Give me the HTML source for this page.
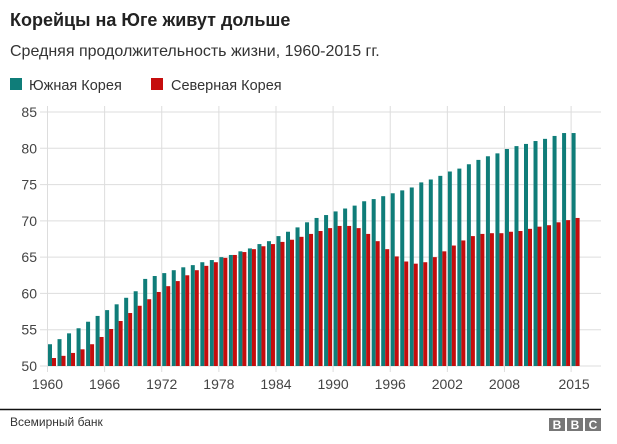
<!DOCTYPE html>
<html><head><meta charset="utf-8">
<style>
body{margin:0;background:#fff;font-family:"Liberation Sans",Arial,sans-serif;}
svg{display:block}
</style></head>
<body>
<svg id="chart" width="617" height="444">
<text x="10" y="26" font-size="18" font-weight="bold" fill="#222">Корейцы на Юге живут дольше</text>
<text x="10" y="56" font-size="16" fill="#333">Средняя продолжительность жизни, 1960-2015 гг.</text>
<g>
<rect x="10" y="78" width="12" height="12" fill="#0f7d79"/>
<text x="29" y="90" font-size="14.5" fill="#333">Южная Корея</text>
<rect x="151" y="78" width="12" height="12" fill="#c50d0d"/>
<text x="171" y="90" font-size="14.5" fill="#333">Северная Корея</text>
</g>
<g id="grid"></g>
<g id="bars"></g>
<g id="xlabels"></g>
<line x1="0" y1="409.5" x2="601" y2="409.5" stroke="#111" stroke-width="1.5"/>
<text x="10" y="426" font-size="12" fill="#333">Всемирный банк</text>
<g>
<rect x="549" y="418" width="16" height="13" fill="#777"/><text x="557" y="429" font-size="12" font-weight="bold" fill="#fff" text-anchor="middle">B</text>
<rect x="567" y="418" width="16" height="13" fill="#777"/><text x="575" y="429" font-size="12" font-weight="bold" fill="#fff" text-anchor="middle">B</text>
<rect x="585" y="418" width="16" height="13" fill="#777"/><text x="593" y="429" font-size="12" font-weight="bold" fill="#fff" text-anchor="middle">C</text>
</g>
</svg>
<script>
const years = [];
for (let y = 1960; y <= 2015; y++) years.push(y);
const southKorea = [53.0,53.7,54.5,55.2,56.1,56.9,57.7,58.5,59.4,60.3,62.0,62.4,62.8,63.2,63.6,63.9,64.3,64.6,65.0,65.3,65.8,66.2,66.8,67.2,67.9,68.5,69.1,69.8,70.4,70.8,71.3,71.7,72.1,72.7,73.0,73.4,73.8,74.2,74.6,75.3,75.7,76.2,76.8,77.2,77.8,78.4,78.9,79.3,79.9,80.3,80.6,81.0,81.3,81.7,82.1,82.1];
const northKorea = [51.1,51.4,51.8,52.3,53.0,54.0,55.1,56.2,57.3,58.3,59.2,60.2,61.0,61.7,62.5,63.2,63.8,64.3,64.9,65.3,65.7,66.1,66.5,66.8,67.1,67.4,67.8,68.2,68.6,69.0,69.3,69.3,69.0,68.2,67.2,66.1,65.1,64.4,64.1,64.3,65.0,65.8,66.6,67.3,67.9,68.2,68.3,68.3,68.5,68.6,68.9,69.2,69.4,69.8,70.1,70.4];
const yTicks = [50,55,60,65,70,75,80,85];
const xTicks = [1960,1966,1972,1978,1984,1990,1996,2002,2008,2015];

const NS = "http://www.w3.org/2000/svg";
const yScale = v => 366 - (v - 50) * (254 / 35);
const xScale = yr => 47.5 + (yr - 1960) * 9.52;
function mk(tag, attrs, parent){const e=document.createElementNS(NS,tag);for(const k in attrs)e.setAttribute(k,attrs[k]);parent.appendChild(e);return e;}
const grid=document.getElementById('grid'), bars=document.getElementById('bars'), xl=document.getElementById('xlabels');

yTicks.forEach(t=>{
  const y=yScale(t);
  const l=mk('line',{x1:40,x2:601,y1:y,y2:y,stroke:'#ddd','stroke-width':1},grid);
  
  
  const tx=mk('text',{x:37,y:y+5,'font-size':14,fill:'#444','text-anchor':'end'},grid);
  tx.textContent=t;
  
  
});
xTicks.forEach(t=>{
  const x=xScale(t);
  const l=mk('line',{x1:x,x2:x,y1:106,y2:372,stroke:'#ddd','stroke-width':1},grid);
  
  
  const tx=mk('text',{x:x+(t===2015?3:0),y:389,'font-size':14,fill:'#444','text-anchor':'middle'},xl);
  tx.textContent=t;
  
  
});
years.forEach((yr,i)=>{
  const x=xScale(yr);
  const s=mk('rect',{x:x+0.5,y:yScale(southKorea[i]),width:4,height:366-yScale(southKorea[i]),fill:'#0f7d79'},bars);
  
  
  const n=mk('rect',{x:x+4.5,y:yScale(northKorea[i]),width:4,height:366-yScale(northKorea[i]),fill:'#c50d0d'},bars);
  
  
});
</script>
</body></html>
